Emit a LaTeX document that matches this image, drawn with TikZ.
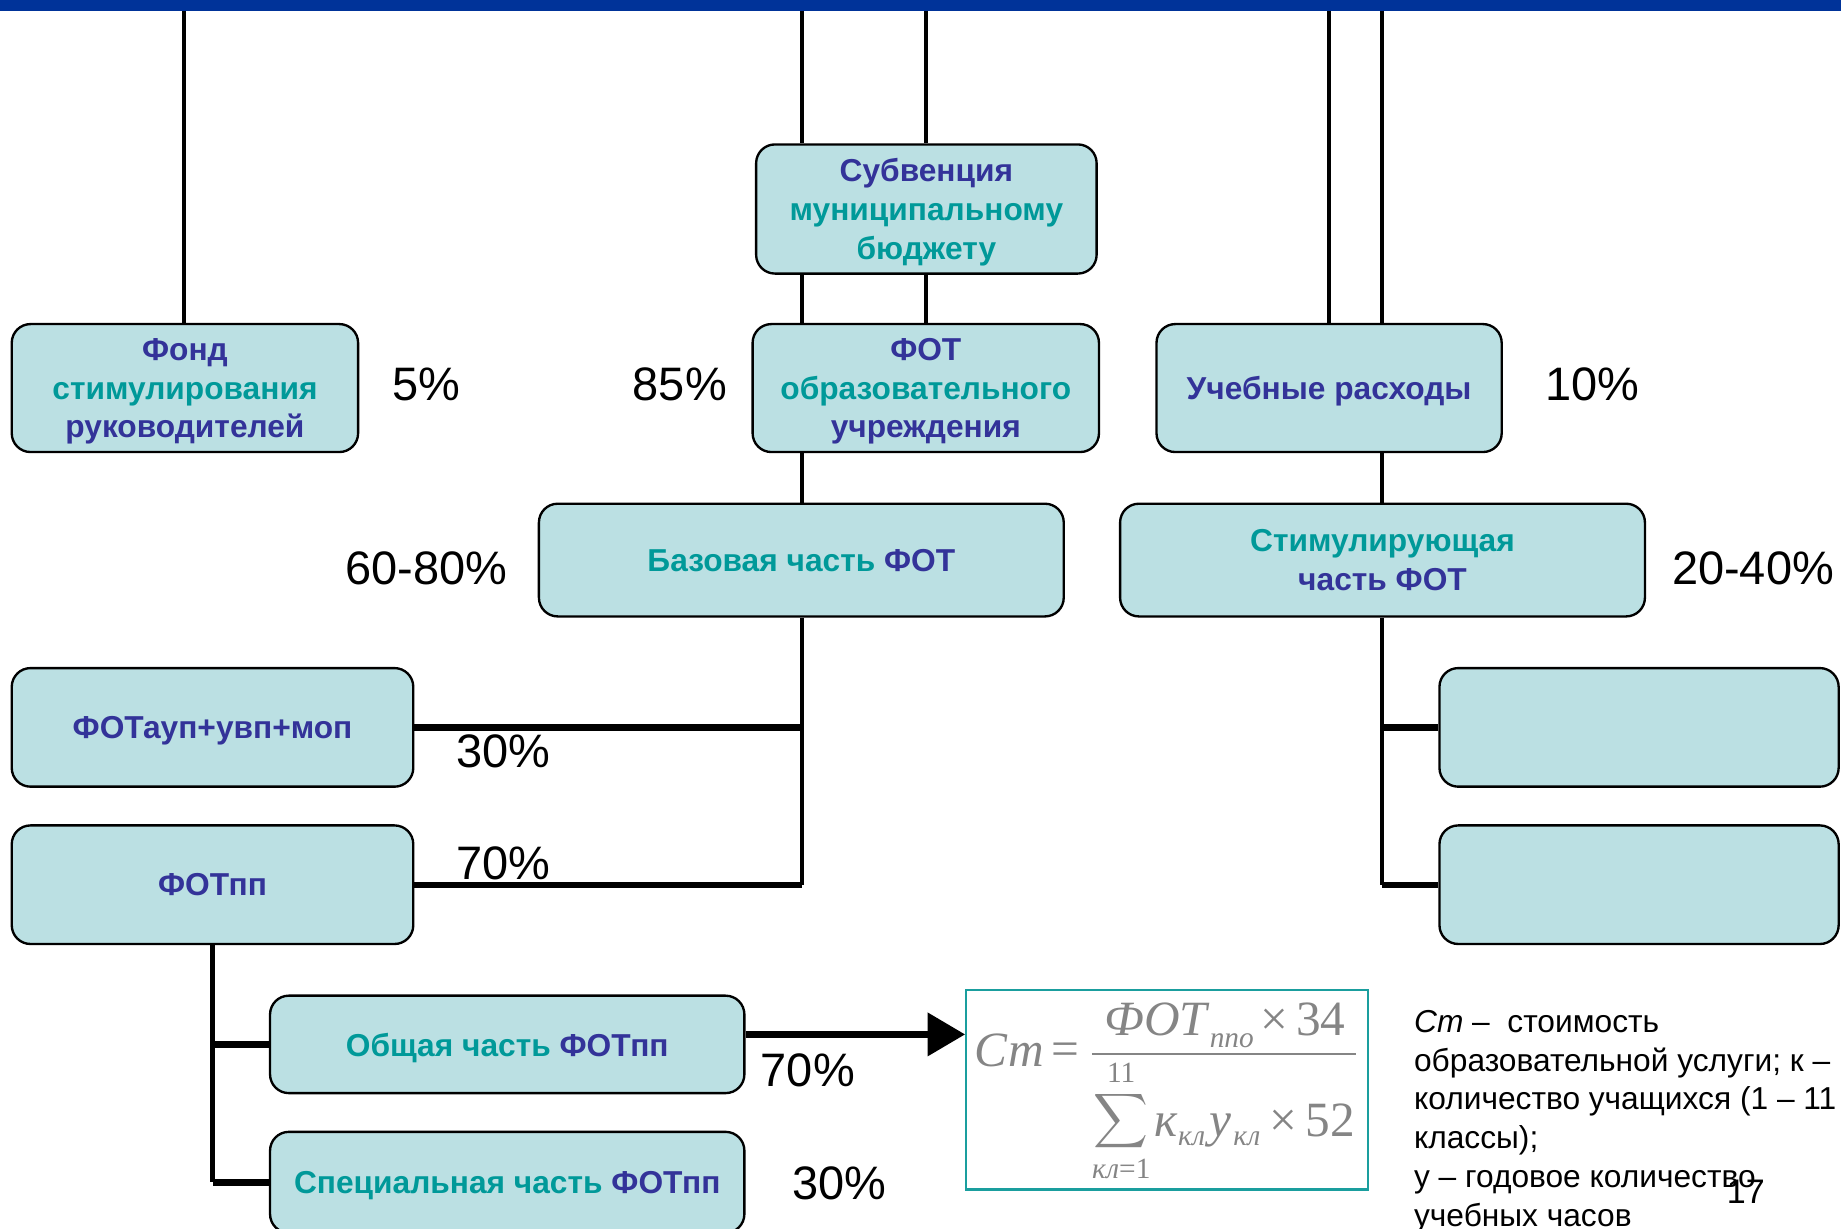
\documentclass[tikz,border=0pt]{standalone}
\usepackage{amsmath}
\usepackage{graphicx}
\usepackage{fontspec}
\setmainfont{Liberation Sans}
\newfontfamily\frm{Liberation Serif}
\usetikzlibrary{arrows.meta}
\definecolor{boxfill}{HTML}{BBE0E3}
\definecolor{dblue}{HTML}{333399}
\definecolor{tealc}{HTML}{009999}
\definecolor{barblue}{HTML}{003399}
\definecolor{fgray}{HTML}{858585}
\definecolor{frameteal}{HTML}{1A9E9E}
\newcommand{\blu}[1]{\textcolor{dblue}{#1}}
\newcommand{\tea}[1]{\textcolor{tealc}{#1}}
\begin{document}
\begin{tikzpicture}[x=0.5pt,y=-0.5pt,
  box/.style={draw=black, line width=1pt, fill=boxfill, rounded corners=8pt, align=center,
    font=\fontsize{13.5}{16.5}\selectfont\bfseries, inner sep=0pt, text depth=0pt},
  vline/.style={line width=1.8pt},
  hline/.style={line width=2.7pt},
  pct/.style={font=\fontsize{20}{24}\selectfont, inner sep=0pt},
  arr/.style={line width=2.8pt, -{Triangle[length=16pt,width=18pt]}},
  eqbig/.style={inner sep=0pt, text=fgray, font=\fontsize{21}{24}\selectfont\frm\itshape},
  eqnum/.style={inner sep=0pt, text=fgray, font=\fontsize{21}{24}\selectfont\frm},
  eqsub/.style={inner sep=0pt, text=fgray, font=\fontsize{12.5}{15}\selectfont\frm\itshape},
  eqsmall/.style={inner sep=0pt, text=fgray, font=\fontsize{12.5}{15}\selectfont\frm}]
\clip (0,0) rectangle (1568,1046);
\fill[white] (0,0) rectangle (1568,1046);
% top bar
\node[fill=barblue, minimum width=784pt, minimum height=4.5pt, inner sep=0pt, anchor=north west] (bar) at (0,0) {};
% boxes
\node[box, minimum width=145pt, minimum height=55pt] (subv) at (789,178)
  {\blu{Субвенция}\\\tea{муниципальному}\\\tea{бюджету}};
\node[box, minimum width=147.5pt, minimum height=54.5pt] (fond) at (157.5,330.5)
  {\blu{Фонд}\\\tea{стимулирования}\\\blu{руководителей}};
\node[box, minimum width=147.5pt, minimum height=54.5pt] (fot) at (788.5,330.5)
  {\blu{ФОТ}\\\tea{образовательного}\\\blu{учреждения}};
\node[box, minimum width=147pt, minimum height=54.5pt] (ucheb) at (1132,330.5)
  {\blu{Учебные расходы}};
\node[box, minimum width=223.5pt, minimum height=48pt] (baz) at (682.5,477)
  {\tea{Базовая часть} \blu{ФОТ}};
\node[box, minimum width=223.5pt, minimum height=48pt] (stim) at (1177.5,477)
  {\tea{Стимулирующая}\\\blu{часть ФОТ}};
\node[box, minimum width=171pt, minimum height=50.5pt] (aup) at (181,619.5)
  {\blu{ФОТауп+увп+моп}};
\node[box, minimum width=171pt, minimum height=50.5pt] (pp) at (181,753.5)
  {\blu{ФОТпп}};
\node[box, minimum width=170pt, minimum height=50.5pt] (r1) at (1396,619.5) {};
\node[box, minimum width=170pt, minimum height=50.5pt] (r2) at (1396,753.5) {};
\node[box, minimum width=202pt, minimum height=41.5pt] (obsh) at (432,889.5)
  {\tea{Общая часть} \blu{ФОТпп}};
\node[box, minimum width=202pt, minimum height=43pt] (spec) at (432,1007)
  {\tea{Специальная часть} \blu{ФОТпп}};
% formula box
\node[draw=frameteal, line width=1pt, fill=white, minimum width=171pt, minimum height=85pt,
  inner sep=0pt] (frml) at (994,928) {};
% formula pieces
\node[eqbig, anchor=base west] (eSt) at (830,908) {Ст};
\node[eqnum] (eEq) at (907,898) {=};
\draw[fgray, line width=0.8pt] (930,898) -- (1155,898);
\node[eqbig, anchor=base west] (eFot) at (940,882) {ФОТ};
\node[eqsub, anchor=base west] (eFotS) at (1030,892) {ппо};
\node[eqnum, anchor=base west] (e34) at (1073,882) {×\,34};
\node[eqsmall] (e11) at (955,914) {11};
\node[inner sep=0pt, text=fgray, font=\fontsize{21}{24}\selectfont] (eSum) at (955,955)
  {\scalebox{0.78}{$\displaystyle\sum$}};
\node[eqsmall, anchor=north] (eLim) at (955,987) {\itshape кл\upshape =1};
\node[eqbig, anchor=base west] (eK) at (983,968) {к};
\node[eqsub, anchor=base west] (eKS) at (1003,976) {кл};
\node[eqbig, anchor=base west] (eY) at (1030,968) {у};
\node[eqsub, anchor=base west] (eYS) at (1050,976) {кл};
\node[eqnum, anchor=base west] (e52) at (1081,968) {×\,52};
% coordinates on the top bar
\coordinate (t1) at (157,9);
\coordinate (t2) at (683,9);
\coordinate (t3) at (789,9);
\coordinate (t4) at (1132,9);
\coordinate (t5) at (1177,9);
% vertical connectors
\draw[vline] (t1) -- (t1 |- fond.north);
\draw[vline] (t2) -- (t2 |- subv.north);
\draw[vline] (t3) -- (t3 |- subv.north);
\draw[vline] (t4) -- (t4 |- ucheb.north);
\draw[vline] (t5) -- (t5 |- ucheb.north);
\draw[vline] (subv.south -| t2) -- (fot.north -| t2);
\draw[vline] (subv.south -| t3) -- (fot.north -| t3);
\draw[vline] (fot.south -| t2) -- (baz.north -| t2);
\draw[vline] (ucheb.south -| t5) -- (stim.north -| t5);
% base part branches
\draw[vline] (baz.south -| t2) -- (pp.east -| t2);
\draw[hline] (aup.east) -- (aup.east -| t2);
\draw[hline] (pp.east) -- (pp.east -| t2);
% stimulating part branches
\draw[vline] (stim.south -| t5) -- (r2.west -| t5);
\draw[hline] (r1.west) -- (r1.west -| t5);
\draw[hline] (r2.west) -- (r2.west -| t5);
% FOTpp branches
\draw[vline] (pp.south) -- (pp.south |- spec.west);
\draw[hline] (obsh.west) -- (obsh.west -| pp.south);
\draw[hline] (spec.west) -- (spec.west -| pp.south);
% arrow to formula
\draw[arr] ([yshift=4.25pt]obsh.east) -- ([yshift=4.25pt]obsh.east -| frml.west);
% percentages
\node[pct] (p1) at (363,327) {5\%};
\node[pct] (p2) at (579,327) {85\%};
\node[pct] (p3) at (1356,327) {10\%};
\node[pct] (p4) at (363,484) {60-80\%};
\node[pct] (p5) at (1493,484) {20-40\%};
\node[pct] (p6) at (429,640) {30\%};
\node[pct] (p7) at (429,735) {70\%};
\node[pct] (p8) at (688,912) {70\%};
\node[pct] (p9) at (715,1008) {30\%};
% description
\node[anchor=north west, inner sep=0pt, align=left, font=\fontsize{13.5}{16.5}\selectfont] (desc) at (1204,860)
  {\textit{Ст} –\ \ стоимость\\образовательной услуги; к –\\количество учащихся (1 – 11\\классы);\\у – годовое количество\\учебных часов};
\node[inner sep=0pt, font=\fontsize{14.5}{17}\selectfont] (num) at (1487,1015) {17};
\end{tikzpicture}
\end{document}
